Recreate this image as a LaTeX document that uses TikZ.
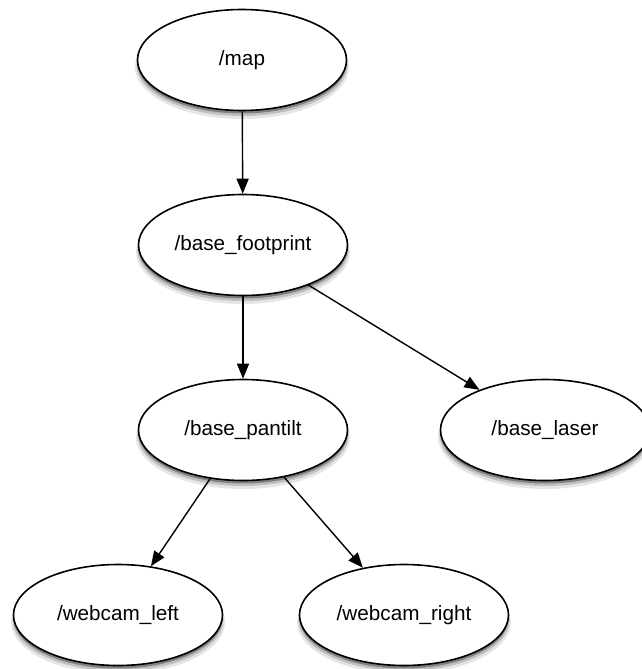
\documentclass[tikz,border=0pt]{standalone}
\usepackage{fontspec}
\setmainfont{Liberation Sans}
\usepackage{tikz}
\usetikzlibrary{shapes,arrows.meta}

\tikzset{
  frame/.style={ellipse, draw, fill=white, line width=1.6pt,
                minimum width=209pt, minimum height=101pt, inner sep=0pt,
                font=\fontsize{20.7}{24}\selectfont},
  tf/.style={line width=1.4pt, -{Triangle[length=15pt,width=12pt]}}
}

\begin{document}
\begin{tikzpicture}[x=1pt, y=-1pt]
      \useasboundingbox (0, 0) rectangle (642, 669);
      % soft shadows
      \foreach \x/\y in {242/60, 243/245, 243/430, 545/430, 118/615, 404/615} {
        \fill [black!10] (\x, \y+7) ellipse [x radius=107, y radius=52];
        \fill [black!25] (\x, \y+5) ellipse [x radius=105.5, y radius=51];
        \fill [black!50] (\x, \y+3) ellipse [x radius=104.5, y radius=50.5];
      }
      \node [frame] (map)   at (242, 60)  {/map};
      \node [frame] (foot)  at (243, 245) {/base\_footprint};
      \node [frame] (pan)   at (243, 430) {/base\_pantilt};
      \node [frame] (laser) at (545, 430) {/base\_laser};
      \node [frame] (left)  at (118, 615) {/webcam\_left};
      \node [frame] (right) at (404, 615) {/webcam\_right};
      \draw [tf] (map) edge (foot)
                 (foot) edge (pan)
                 (foot) edge (laser)
                 (pan) edge (left)
                 (pan) edge (right);
\end{tikzpicture}
\end{document}
